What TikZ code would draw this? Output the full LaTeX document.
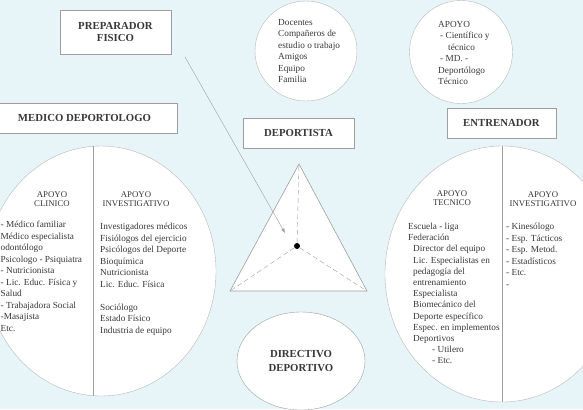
\documentclass[tikz,border=0pt]{standalone}
\usepackage{fontspec}
\setmainfont{Liberation Serif}
\usetikzlibrary{arrows.meta, shapes.geometric}
\definecolor{paperBlue}{RGB}{231,245,249}
\definecolor{lineGray}{gray}{0.62}
\definecolor{rimGray}{gray}{0.72}
\definecolor{inkGray}{gray}{0.22}

\begin{document}
\begin{tikzpicture}[x=1bp, y=-1bp,
    titlebox/.style={draw=lineGray, fill=white, inner sep=0pt, align=center, text=inkGray, font=\fontsize{10.8}{13}\selectfont\bfseries},
    rim/.style={ellipse, draw=rimGray, fill=white, inner sep=0pt},
    listtext/.style={anchor=north west, inner sep=0pt, align=left, text=inkGray, font=\fontsize{9.3}{11.6}\selectfont},
    headtext/.style={anchor=north, inner sep=0pt, align=center, text=inkGray, font=\fontsize{8.8}{10}\selectfont}]
    \fill[paperBlue] (0,0) rectangle (583,409);
    \useasboundingbox (0,0) rectangle (583,409);
    \clip (0,0) rectangle (583,409);

    % circles and boxes
    \node[rim, minimum width=102bp, minimum height=100bp] (social) at (306,51) {};
    \node[rim, minimum width=103bp, minimum height=103bp] (apoyo) at (461,52) {};
    \node[rim, minimum width=230bp, minimum height=250bp] (medcircle) at (101,271) {};
    \node[rim, minimum width=234bp, minimum height=256bp] (entcircle) at (502,274) {};
    \node[rim, draw=lineGray, minimum width=128bp, minimum height=98bp, align=center, text=inkGray,
          font=\fontsize{10.8}{14}\selectfont\bfseries] (directivo) at (301,361) {DIRECTIVO\\DEPORTIVO};

    \node[titlebox, minimum width=111bp, minimum height=44bp] (prep) at (115.5,32) {PREPARADOR\\FISICO};
    \node[titlebox, minimum width=185bp, minimum height=30bp] (medico) at (84.5,118) {MEDICO DEPORTOLOGO};
    \node[titlebox, minimum width=111bp, minimum height=30bp] (deportista) at (298.5,133) {DEPORTISTA};
    \node[titlebox, minimum width=109bp, minimum height=30bp] (entrenador) at (501.5,123) {ENTRENADOR};

    \draw[lineGray] (93,146.3) -- (93,395.7);
    \draw[lineGray] (entcircle.north) -- (entcircle.south);

    % triangle
    \coordinate (apex) at (299,164);
    \coordinate (left) at (230,291);
    \coordinate (right) at (367,291);
    \draw[lineGray, fill=white, line width=0.6pt] (apex) -- (left) -- (right) -- cycle;
    \node[circle, fill=black, inner sep=0pt, minimum size=6bp] (nucleo) at (297,246) {};
    \draw[lineGray, dash pattern=on 5pt off 3pt] (nucleo) -- (apex);
    \draw[lineGray, dash pattern=on 5pt off 3pt] (nucleo) -- (left);
    \draw[lineGray, dash pattern=on 5pt off 3pt] (nucleo) -- (right);

    \coordinate (prepout) at (185,57);
    \coordinate (prepin) at (285,233);
    \draw[lineGray, -{Latex[length=4.5pt, width=3.5pt]}] (prepout) -- (prepin);

    % texts
    \node[listtext] (socialtext) at (278,18.8) {Docentes\\Compañeros de\\estudio o trabajo\\Amigos\\Equipo\\Familia};
    \node[listtext] (apoyotext) at (438,20.8) {APOYO\\\hspace*{2bp}- Científico y\\\hspace*{10bp}técnico\\\hspace*{2bp}- MD. -\\Deportólogo\\Técnico};

    \node[headtext] (clinhead) at (52,191) {APOYO\\CLINICO};
    \node[headtext] (medinvhead) at (136,191) {APOYO\\INVESTIGATIVO};
    \node[listtext] (clinlist) at (0.5,220.8) {- Médico familiar\\Médico especialista\\odontólogo\\Psicologo - Psiquiatra\\- Nutricionista\\- Lic. Educ. Física y\\Salud\\- Trabajadora Social\\-Masajista\\Etc.};
    \node[listtext] (medinvlist) at (100,222.8) {Investigadores médicos\\Fisiólogos del ejercicio\\Psicólogos del Deporte\\Bioquímica\\Nutricionista\\Lic. Educ. Física\\[11.6pt]Sociólogo\\Estado Físico\\Industria de equipo};

    \node[headtext] (tecnhead) at (452,190) {APOYO\\TECNICO};
    \node[headtext] (entinvhead) at (543,191) {APOYO\\INVESTIGATIVO};
    \node[listtext, font=\fontsize{9.3}{11.25}\selectfont] (tecnlist) at (408,222.8) {Escuela - liga\\Federación\\\hspace*{5bp}Director del equipo\\\hspace*{5bp}Lic. Especialistas en\\\hspace*{5bp}pedagogía del\\\hspace*{5bp}entrenamiento\\\hspace*{5bp}Especialista\\\hspace*{5bp}Biomecánico del\\\hspace*{5bp}Deporte específico\\\hspace*{5bp}Espec. en implementos\\\hspace*{5bp}Deportivos\\\hspace*{24bp}- Utilero\\\hspace*{24bp}- Etc.};
    \node[listtext] (entinvlist) at (506,222.8) {- Kinesólogo\\- Esp. Tácticos\\- Esp. Metod.\\- Estadísticos\\- Etc.\\-};
\end{tikzpicture}
\end{document}
